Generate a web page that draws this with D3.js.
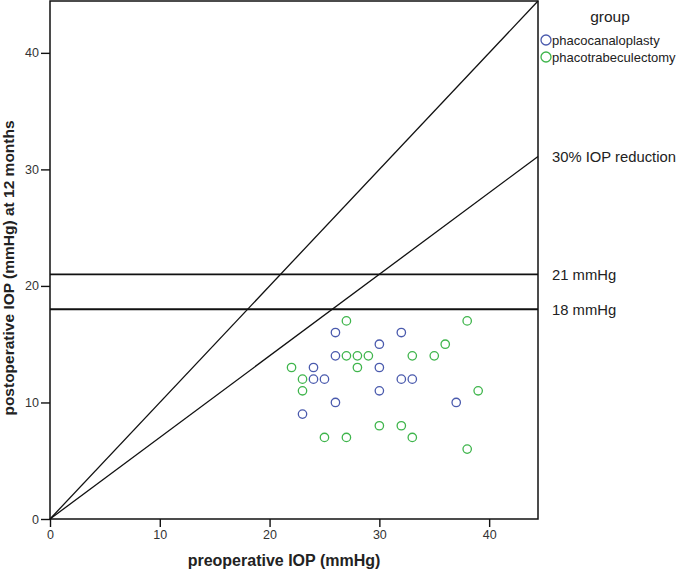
<!DOCTYPE html>
<html>
<head>
<meta charset="utf-8">
<script src="https://cdn.jsdelivr.net/npm/d3@7"></script>
<style>
  body { margin: 0; background: #fff; }
  svg { font-family: "Liberation Sans", Arial, sans-serif; }
</style>
</head>
<body>
<svg width="685" height="573"></svg>
<script>
// data
var groups = ['phacocanaloplasty', 'phacotrabeculectomy'];
var colors = ['#4a5aad', '#3fb54c'];

var canaloPre  = [26, 32, 30, 26, 24, 30, 24, 25, 32, 33, 30, 26, 37, 23];
var canaloPost = [16, 16, 15, 14, 13, 13, 12, 12, 12, 12, 11, 10, 10, 9];

var trabePre  = [27, 38, 36, 27, 28, 29, 33, 35, 22, 28, 23, 23, 39, 30, 32, 25, 27, 33, 38];
var trabePost = [17, 17, 15, 14, 14, 14, 14, 14, 13, 13, 12, 11, 11, 8, 8, 7, 7, 7, 6];

var xTicks = [0, 10, 20, 30, 40];
var yTicks = [0, 10, 20, 30, 40];
var refLevels = [21, 18];
var refLabels = ['21 mmHg', '18 mmHg'];
var reduction = 0.7;

var svg = d3.select('svg');
var pLeft = 50, pRight = 538, pTop = 1, pBottom = 519;
var axisMax = 44.45;

var x = d3.scaleLinear().domain([0, axisMax]).range([pLeft, pRight]);
var y = d3.scaleLinear().domain([0, axisMax]).range([pBottom, pTop]);

// frame
svg.append('rect')
  .attr('x', pLeft).attr('y', pTop)
  .attr('width', pRight - pLeft).attr('height', pBottom - pTop)
  .attr('fill', 'none').attr('stroke', '#111').attr('stroke-width', 1.5);

// axes
var xAxis = svg.append('g')
  .attr('transform', 'translate(0,' + pBottom + ')')
  .call(d3.axisBottom(x).tickValues(xTicks).tickSize(8).tickPadding(3));
var yAxis = svg.append('g')
  .attr('transform', 'translate(' + pLeft + ',0)')
  .call(d3.axisLeft(y).tickValues(yTicks).tickSize(9).tickPadding(2));
[xAxis, yAxis].forEach(function(g) {
  g.select('.domain').remove();
  g.selectAll('line').attr('stroke', '#111').attr('stroke-width', 1.4);
  g.selectAll('text').attr('fill', '#333').style('font-size', '12.5px')
    .style('font-family', '"Liberation Sans", Arial, sans-serif');
});

// reference lines
svg.append('line')
  .attr('x1', x(0)).attr('y1', y(0)).attr('x2', x(axisMax)).attr('y2', y(axisMax))
  .attr('stroke', '#111').attr('stroke-width', 1.3);
svg.append('line')
  .attr('x1', x(0)).attr('y1', y(0)).attr('x2', x(axisMax)).attr('y2', y(axisMax * reduction))
  .attr('stroke', '#111').attr('stroke-width', 1.3);
svg.selectAll('.hline')
  .data(refLevels)
  .enter().append('line')
  .attr('x1', x(0)).attr('x2', x(axisMax))
  .attr('y1', function(d) { return y(d); })
  .attr('y2', function(d) { return y(d); })
  .attr('stroke', '#111').attr('stroke-width', 1.8);

// right-hand labels
svg.append('text')
  .attr('x', 552).attr('y', y(axisMax * reduction) + 6)
  .style('font-size', '14.8px').attr('fill', '#222')
  .text('30% IOP reduction');
svg.selectAll('.hlabel')
  .data(refLevels)
  .enter().append('text')
  .attr('x', 552)
  .attr('y', function(d) { return y(d) + 6; })
  .style('font-size', '14.8px').attr('fill', '#222')
  .text(function(d, i) { return refLabels[i]; });

// points
var series = [
  canaloPre.map(function(v, i) { return { pre: v, post: canaloPost[i], g: 0 }; }),
  trabePre.map(function(v, i) { return { pre: v, post: trabePost[i], g: 1 }; })
];
series.forEach(function(pts) {
  svg.append('g').selectAll('circle')
    .data(pts)
    .enter().append('circle')
    .attr('cx', function(d) { return x(d.pre); })
    .attr('cy', function(d) { return y(d.post); })
    .attr('r', 4.2)
    .attr('fill', 'none')
    .attr('stroke', function(d) { return colors[d.g]; })
    .attr('stroke-width', 1.3);
});

// legend
svg.append('text')
  .attr('x', 610).attr('y', 22)
  .attr('text-anchor', 'middle')
  .style('font-size', '15.5px').attr('fill', '#222')
  .text('group');
var legend = svg.selectAll('.leg')
  .data(groups)
  .enter().append('g')
  .attr('transform', function(d, i) { return 'translate(546,' + (40 + i * 17) + ')'; });
legend.append('circle')
  .attr('r', 5)
  .attr('fill', 'none')
  .attr('stroke', function(d, i) { return colors[i]; })
  .attr('stroke-width', 1.3);
legend.append('text')
  .attr('x', 6).attr('y', 4.5)
  .style('font-size', '13px').attr('fill', '#222')
  .text(function(d) { return d; });

// axis titles
svg.append('text')
  .attr('x', 284).attr('y', 566)
  .attr('text-anchor', 'middle')
  .style('font-size', '16px').style('font-weight', 'bold').attr('fill', '#222')
  .text('preoperative IOP (mmHg)');
svg.append('text')
  .attr('transform', 'translate(14,268) rotate(-90)')
  .attr('text-anchor', 'middle')
  .style('font-size', '15.5px').style('font-weight', 'bold').attr('fill', '#222')
  .text('postoperative IOP (mmHg) at 12 months');
</script>
</body>
</html>
